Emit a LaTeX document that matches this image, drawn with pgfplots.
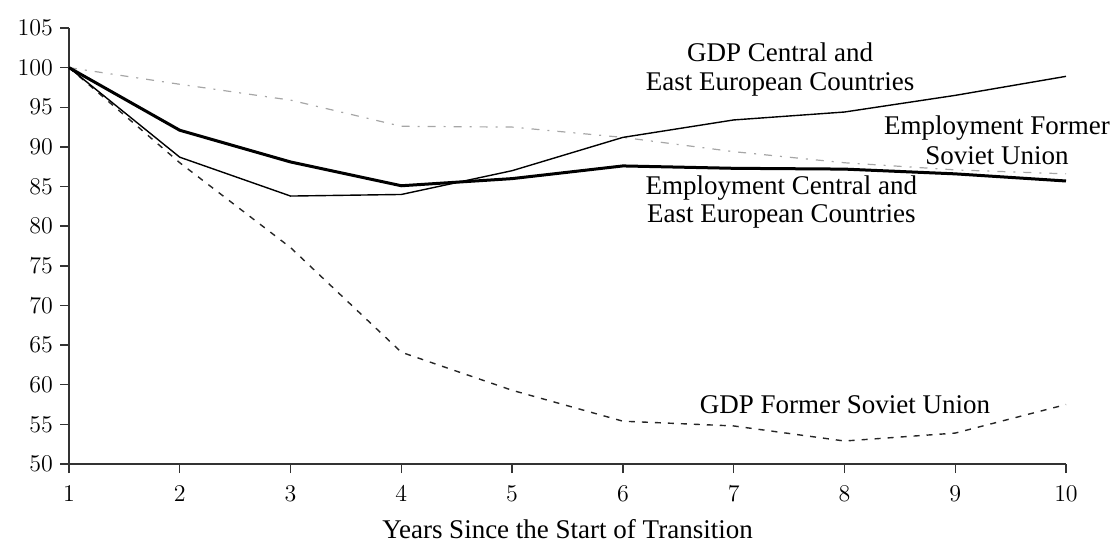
\documentclass[border=0pt]{standalone}
\usepackage{pgfplots}
\pgfplotsset{compat=1.18}
\usepackage{fontspec}
\setmainfont{Liberation Serif}
\begin{document}
\begin{tikzpicture}
\begin{axis}[
  name=ax,
  scale only axis,
  width=498.5pt, height=218pt,
  xmin=1, xmax=10, ymin=50, ymax=105,
  axis lines*=left,
  axis line style={line width=0.9pt, black!80},
  tick align=outside,
  major tick length=4.5pt,
  tick style={black!80, line width=0.7pt},
  xtick={1,...,10},
  ytick={50,55,...,105},
  ticklabel style={font=\fontsize{13}{15}\selectfont},
  xticklabel style={yshift=-3pt},
  xlabel={Years Since the Start of Transition},
  xlabel style={font=\fontsize{13.5}{15}\selectfont, yshift=-2pt},
  clip=false,
]
% Employment Former Soviet Union (dash-dot, gray)
\addplot[gray!70, line width=0.6pt, dash pattern=on 4pt off 4pt on 1pt off 4pt] coordinates {
 (1,100) (2,97.9) (3,95.9) (4,92.6) (5,92.5) (6,91.2) (7,89.4) (8,88.0) (9,87.1) (10,86.6)};
% GDP Former Soviet Union (dashed)
\addplot[black!85, line width=0.7pt, dash pattern=on 3pt off 3.5pt] coordinates {
 (1,100) (2,88.0) (3,77.3) (4,64.1) (5,59.3) (6,55.4) (7,54.8) (8,52.9) (9,53.9) (10,57.5)};
% GDP Central and East European Countries (thin solid)
\addplot[black, line width=0.7pt] coordinates {
 (1,100) (2,88.7) (3,83.8) (4,84.0) (5,87.0) (6,91.2) (7,93.4) (8,94.4) (9,96.5) (10,98.9)};
% Employment Central and East European Countries (thick solid)
\addplot[black, line width=1.5pt] coordinates {
 (1,100) (2,92.1) (3,88.1) (4,85.1) (5,86.0) (6,87.6) (7,87.3) (8,87.2) (9,86.6) (10,85.7)};
\node[align=center, font=\fontsize{13.5}{14.5}\selectfont] at (axis cs:7.42,99.8) {GDP Central and\\East European Countries};
\node[align=center, font=\fontsize{13.5}{15}\selectfont] at (axis cs:9.377,90.87) {Employment Former\\Soviet Union};
\node[align=center, font=\fontsize{13.5}{14}\selectfont] at (axis cs:7.43,82.99) {Employment Central and\\East European Countries};
\node[font=\fontsize{13.5}{15}\selectfont] at (axis cs:8.005,57.44) {GDP Former Soviet Union};
\end{axis}
\pgfresetboundingbox
\path ([xshift=-34.5pt,yshift=-43pt]ax.south west) rectangle ([xshift=26.5pt,yshift=14pt]ax.north east);
\end{tikzpicture}
\end{document}
